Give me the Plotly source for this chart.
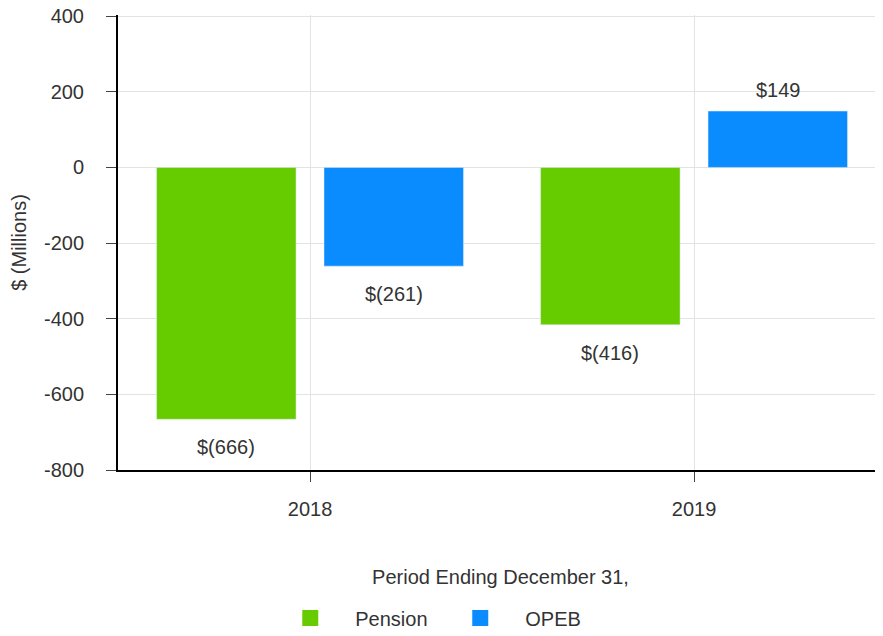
import plotly.graph_objects as go

categories = ["2018", "2019"]
pension = [-666, -416]
opeb = [-261, 149]
pension_labels = ["$(666)", "$(416)"]
opeb_labels = ["$(261)", "$149"]
y_ticks = [400, 200, 0, -200, -400, -600, -800]
y_tick_text = ["400", "200", "0", "-200", "-400", "-600", "-800"]

GREEN = "#66CC00"
BLUE = "#0A8CFF"
FONT = "Liberation Sans, Arial, sans-serif"
TXT = "#333333"

fig = go.Figure()
fig.add_trace(go.Bar(name="Pension", x=categories, y=pension, marker_color=GREEN,
                     showlegend=False))
fig.add_trace(go.Bar(name="OPEB", x=categories, y=opeb, marker_color=BLUE,
                     showlegend=False))
# legend swatches
fig.add_trace(go.Scatter(name="Pension", x=[categories[0]], y=[None], mode="markers",
                         marker=dict(symbol="square", size=20, color=GREEN)))
fig.add_trace(go.Scatter(name="OPEB", x=[categories[0]], y=[None], mode="markers",
                         marker=dict(symbol="square", size=20, color=BLUE)))

for vals, labels, shift in [(pension, pension_labels, -84), (opeb, opeb_labels, 84)]:
    for i, (v, t) in enumerate(zip(vals, labels)):
        fig.add_annotation(x=i, y=v, xref="x", yref="y", text=t, showarrow=False,
                           xshift=shift,
                           yanchor="top" if v < 0 else "bottom",
                           yshift=-15 if v < 0 else 8,
                           font=dict(size=20, color=TXT, family=FONT))

fig.update_layout(
    width=875, height=628,
    margin=dict(l=110, r=0, t=6.865, b=166, autoexpand=False),
    paper_bgcolor="white", plot_bgcolor="white",
    barmode="group", bargap=0.128, bargroupgap=0.167,
    font=dict(family=FONT, size=20, color=TXT),
    legend=dict(orientation="h", xref="container", x=0.294, xanchor="left",
                yref="container", y=0.0287, yanchor="middle",
                font=dict(size=20, color=TXT), itemwidth=80,
                entrywidth=75, entrywidthmode="pixels",
                itemsizing="trace"),
    xaxis=dict(
        type="category", automargin=False,
        range=[-0.5, 1.492], showline=True, linecolor="black", linewidth=2,
        showgrid=True, gridcolor="#e3e3e3", gridwidth=1,
        ticks="outside", ticklen=10, tickcolor="#444444",
        ticklabelstandoff=10,
        title=dict(text="Period Ending December 31,", standoff=51,
                   font=dict(size=20, color=TXT)),
    ),
    yaxis=dict(
        automargin=False, ticklabeloverflow="allow",
        range=[-800, 403], tickvals=y_ticks, ticktext=y_tick_text,
        showline=True, linecolor="black",
        linewidth=2, showgrid=True, gridcolor="#e3e3e3", gridwidth=1,
        zeroline=False, ticks="outside", ticklen=10, tickcolor="#444444",
        ticklabelstandoff=18,
        title=dict(text="$ (Millions)", standoff=26,
                   font=dict(size=20, color=TXT)),
    ),
)

fig.write_html("out.html")
